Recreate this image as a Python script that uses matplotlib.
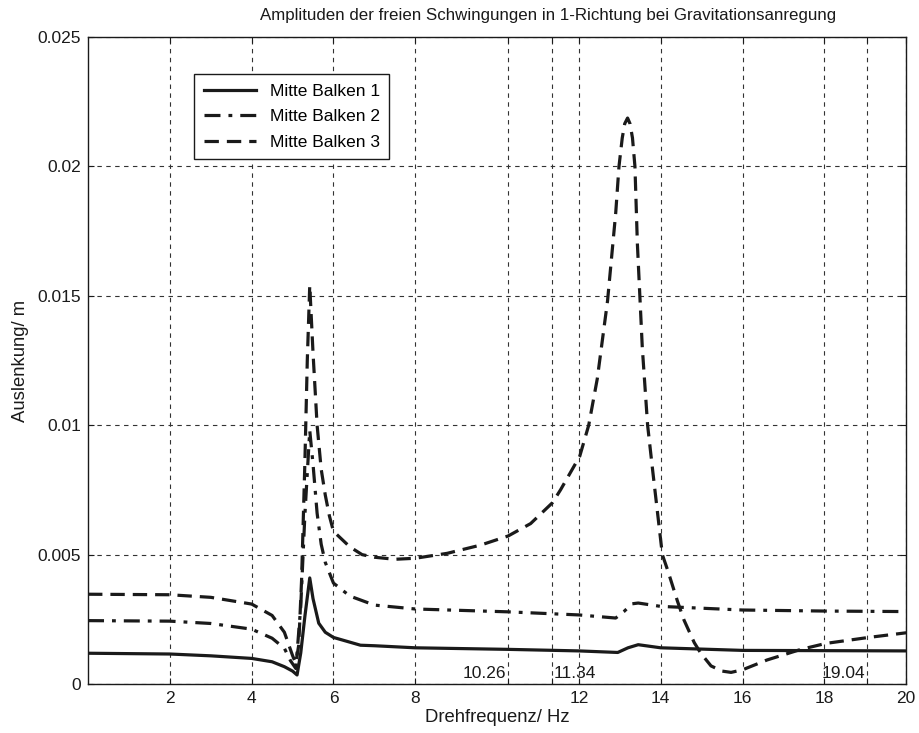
import matplotlib
matplotlib.use("Agg")
import matplotlib.pyplot as plt

plt.rcParams["font.family"] = ["Liberation Sans", "DejaVu Sans"]

# Frequency points (Hz) and amplitudes (m) for each beam centre
freq_1 = [0.0, 2.0, 3.0, 4.0, 4.5, 4.8, 5.0, 5.11, 5.2, 5.3, 5.42, 5.5, 5.64, 5.8,
          6.0, 6.66, 7.0, 8.0, 10.26, 12.0, 12.95, 13.2, 13.45, 14.0, 16.0, 20.0]
amp_1 = [0.00119, 0.00116, 0.00109, 0.00099, 0.00086, 0.00067, 0.00050, 0.00035,
         0.00120, 0.00260, 0.00410, 0.00330, 0.00235, 0.00200, 0.00180, 0.00150,
         0.00148, 0.00140, 0.00134, 0.00128, 0.00122, 0.00140, 0.00152, 0.00140,
         0.00130, 0.00128]

freq_2 = [0.0, 2.0, 3.0, 4.0, 4.5, 4.8, 4.95, 5.08, 5.2, 5.3, 5.42, 5.5, 5.6, 5.7,
          5.8, 6.0, 6.4, 7.0, 8.0, 10.26, 12.0, 12.9, 13.1, 13.3, 13.45, 14.0, 16.0,
          18.0, 20.0]
amp_2 = [0.00245, 0.00243, 0.00234, 0.00212, 0.00177, 0.00138, 0.00090, 0.00060,
         0.00300, 0.00650, 0.00980, 0.00850, 0.00660, 0.00540, 0.00470, 0.00390,
         0.00340, 0.00305, 0.00290, 0.00279, 0.00267, 0.00255, 0.00280, 0.00310,
         0.00313, 0.00300, 0.00286, 0.00282, 0.00280]

freq_3 = [0.0, 2.0, 3.0, 4.0, 4.5, 4.8, 5.0, 5.08, 5.15, 5.22, 5.3, 5.36, 5.42, 5.5,
          5.6, 5.7, 5.8, 5.9, 6.0, 6.2, 6.4, 6.7, 7.0, 7.5, 8.0, 8.78, 9.6, 10.27,
          10.82, 11.35, 11.55, 12.02, 12.24, 12.45, 12.7, 12.9, 12.98, 13.06, 13.12,
          13.19, 13.25, 13.31, 13.37, 13.43, 13.49, 13.55, 13.68, 13.8, 14.04, 14.17,
          14.41, 14.57, 14.82, 14.98, 15.23, 15.5, 15.72, 16.0, 16.6, 17.43, 18.04,
          19.08, 20.0]
amp_3 = [0.00347, 0.00345, 0.00335, 0.00309, 0.00265, 0.00200, 0.00110, 0.00080,
         0.00150, 0.00400, 0.00850, 0.01250, 0.01540, 0.01280, 0.01000, 0.00830,
         0.00730, 0.00650, 0.00590, 0.00560, 0.00530, 0.00500, 0.00490, 0.00482,
         0.00486, 0.00505, 0.00537, 0.00572, 0.00620, 0.00700, 0.00750, 0.00880,
         0.01000, 0.01180, 0.01480, 0.01820, 0.02000, 0.02110, 0.02165, 0.02187,
         0.02165, 0.02110, 0.02000, 0.01700, 0.01500, 0.01300, 0.01000, 0.00830,
         0.00500, 0.00440, 0.00320, 0.00247, 0.00160, 0.00119, 0.00070, 0.00050,
         0.00045, 0.00055, 0.00093, 0.00134, 0.00157, 0.00180, 0.00198]

series_labels = ["Mitte Balken 1", "Mitte Balken 2", "Mitte Balken 3"]

# Axis ticks: regular grid plus marked natural frequencies
x_ticks = [2, 4, 6, 8, 10.26, 11.34, 12, 14, 16, 18, 19.04, 20]
x_tick_labels = ["2", "4", "6", "8", "", "", "12", "14", "16", "18", "", "20"]
marked_freqs = [10.26, 11.34, 19.04]
marked_labels = ["10.26", "11.34", "19.04"]
y_ticks = [0, 0.005, 0.01, 0.015, 0.02, 0.025]
y_tick_labels = ["0", "0.005", "0.01", "0.015", "0.02", "0.025"]

FS = 12.5
INK = "#1a1a1a"

fig = plt.figure(figsize=(9.19, 7.33), dpi=100)
ax = fig.add_axes([0.0958, 0.0668, 0.8902, 0.8827])

ax.plot(freq_1, amp_1, color=INK, lw=2.3, ls="-", label=series_labels[0])
ax.plot(freq_2, amp_2, color=INK, lw=2.3, ls=(0, (5, 2.5, 1.2, 2.5)),
        label=series_labels[1])
ax.plot(freq_3, amp_3, color=INK, lw=2.3, ls=(0, (4.5, 2.5)),
        label=series_labels[2])

ax.set_xlim(0, 20)
ax.set_ylim(0, 0.025)
ax.set_xticks(x_ticks)
ax.set_xticklabels(x_tick_labels)
ax.set_yticks(y_ticks)
ax.set_yticklabels(y_tick_labels)
ax.tick_params(direction="in", top=True, right=True, labelsize=FS, length=4,
               width=0.8, colors=INK, pad=5)
ax.grid(True, color="#333333", ls=(0, (4, 4)), lw=0.8)
for sp in ax.spines.values():
    sp.set_linewidth(1.0)
    sp.set_color(INK)

# Labels for the marked frequencies, placed just above the x axis
for f, t in zip(marked_freqs, marked_labels):
    ha = "left" if t == "11.34" else "right"
    dx = 0.03 if ha == "left" else -0.03
    ax.text(f + dx, 0.00012, t, ha=ha, va="bottom", fontsize=FS, color=INK)

fig.text(0.596, 0.979,
         "Amplituden der freien Schwingungen in 1-Richtung bei Gravitationsanregung",
         ha="center", va="center", fontsize=12.2, color=INK)
ax.set_xlabel("Drehfrequenz/ Hz", fontsize=13.3, labelpad=2, color=INK)
ax.set_ylabel("Auslenkung/ m", fontsize=13.3, labelpad=6, color=INK)

leg = ax.legend(loc="upper left", bbox_to_anchor=(0.1296, 0.9428), fontsize=FS,
                fancybox=False, framealpha=1, edgecolor=INK, borderaxespad=0,
                handlelength=3.0, borderpad=0.55, labelspacing=0.6)
leg.get_frame().set_linewidth(1.0)

fig.savefig("out.png", dpi=100)
